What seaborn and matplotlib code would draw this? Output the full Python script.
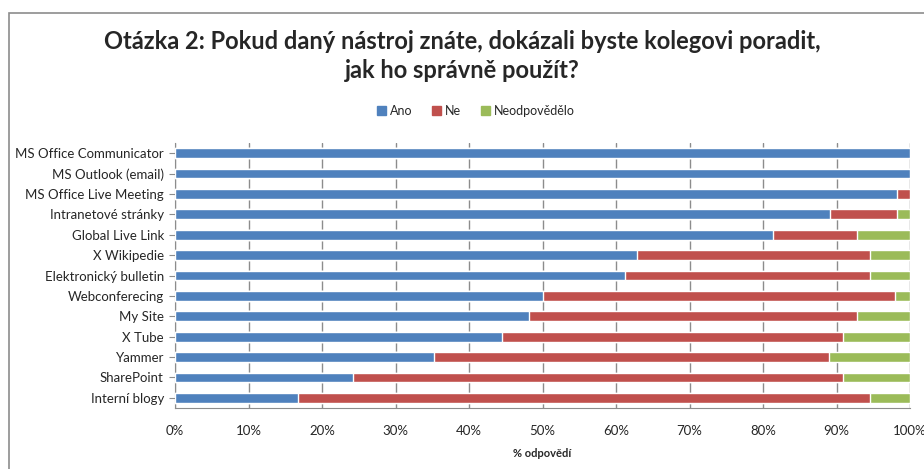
import matplotlib
matplotlib.use('Agg')
from matplotlib import pyplot as plt
from matplotlib.patches import Rectangle, Patch
import matplotlib.ticker as mtick
import pandas as pd
import seaborn as sns

categories = ['MS Office Communicator', 'MS Outlook (email)', 'MS Office Live Meeting',
              'Intranetové stránky', 'Global Live Link', 'X Wikipedie',
              'Elektronický bulletin', 'Webconferecing', 'My Site', 'X Tube',
              'Yammer', 'SharePoint', 'Interní blogy']
ano = [100.0, 100.0, 98.2, 89.1, 81.4, 62.9, 61.2, 50.1, 48.2, 44.5, 35.2, 24.2, 16.7]
ne = [0.0, 0.0, 1.8, 9.1, 11.4, 31.7, 33.4, 47.9, 44.6, 46.4, 53.8, 66.7, 77.9]
neodp = [0.0, 0.0, 0.0, 1.8, 7.2, 5.4, 5.4, 2.0, 7.2, 9.1, 11.0, 9.1, 5.4]
series = ['Ano', 'Ne', 'Neodpovědělo']
colors = ['#4F81BD', '#C0504D', '#9BBB59']

df = pd.DataFrame({'kat': categories, 'Ano': ano, 'Ne': ne, 'Neodpovědělo': neodp})
df['c1'] = df['Ano']
df['c2'] = df['Ano'] + df['Ne']
df['c3'] = df['c2'] + df['Neodpovědělo']

sns.set_style('white')
plt.rcParams['font.family'] = ['Lato', 'DejaVu Sans']

fig = plt.figure(figsize=(9.24, 4.69), dpi=100)
ax = fig.add_axes([175 / 924, 1 - 408 / 469, 735 / 924, 265 / 469])

# stacked bars: draw cumulative totals from the largest down
for col, c in zip(['c3', 'c2', 'c1'], colors[::-1]):
    sns.barplot(data=df, y='kat', x=col, color=c, orient='h', width=0.48,
                saturation=1, ax=ax, zorder=3)

ax.set_xlim(0, 100)
ax.set_xticks(range(0, 101, 10))
ax.xaxis.set_major_formatter(mtick.PercentFormatter(decimals=0))
ax.grid(axis='x', color='#8c8c8c', lw=1, zorder=0)
ax.set_axisbelow(True)
for s in ['top', 'right']:
    ax.spines[s].set_visible(False)
for s in ['left', 'bottom']:
    ax.spines[s].set_color('#8c8c8c')
ax.tick_params(axis='y', length=4, color='#8c8c8c', labelsize=9.5, pad=4, left=True)
ax.tick_params(axis='x', length=0, labelsize=9.5, pad=12)
ax.set_ylabel('')
ax.set_xlabel('% odpovědí', fontsize=8, fontweight='bold', labelpad=8)

fig.suptitle('Otázka 2: Pokud daný nástroj znáte, dokázali byste kolegovi poradit,\njak ho správně použít?',
             fontsize=17, fontweight='bold', y=0.937, linespacing=1.35)

handles = [Patch(color=c) for c in colors]
fig.legend(handles, series, loc='center', bbox_to_anchor=(0.515, 1 - 111 / 469),
           ncol=3, frameon=False, fontsize=9, handlelength=0.7, handleheight=0.7,
           columnspacing=1.6, handletextpad=0.3)

# chart frame, only top and left edges fall inside the picture
fig.patches.append(Rectangle((9 / 924, -0.1), 1.2, 1.1 - 13 / 469, transform=fig.transFigure,
                             fill=False, edgecolor='#8c8c8c', lw=1.2))

plt.savefig('out.png', dpi=100)
